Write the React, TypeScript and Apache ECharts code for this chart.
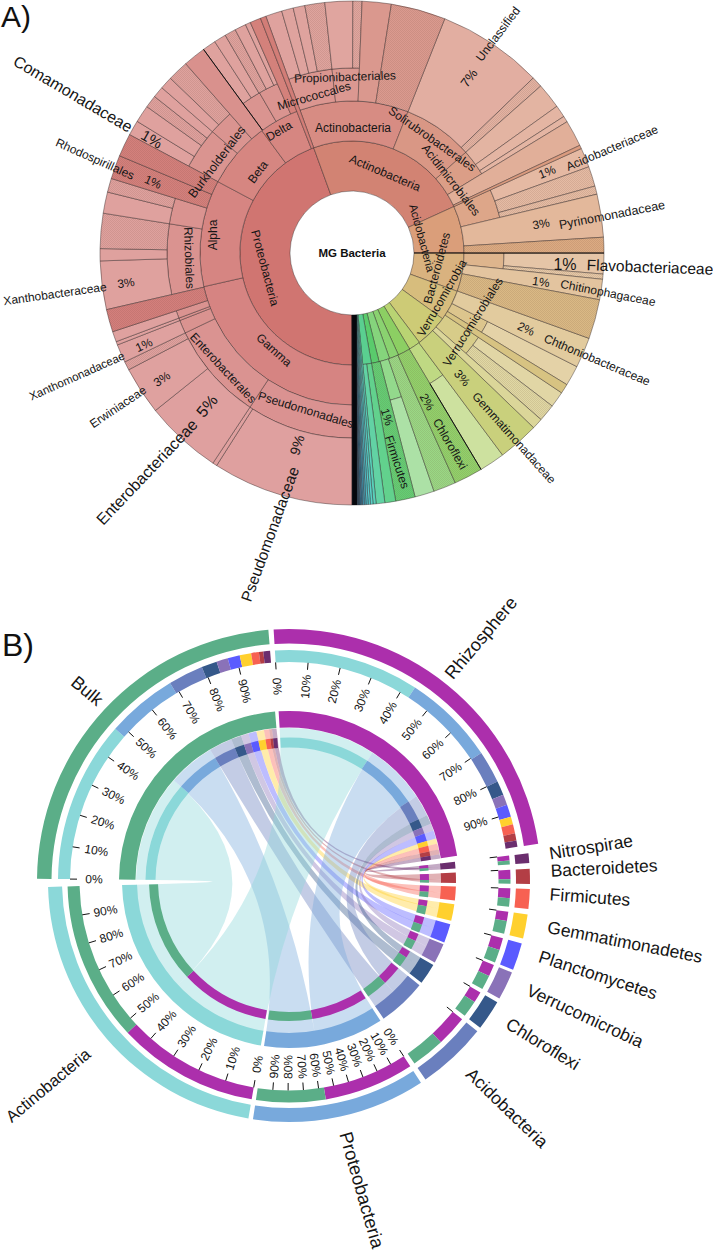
import React, { useEffect, useRef } from "react";
import * as echarts from "echarts";

// ---------- Panel A: Krona wheel. Every cell is [startAngle, endAngle, unassigned?]; angles run clockwise from 6 o'clock.
const phylumCells = [[0,160],[160,245.5],[245.5,270],[270,290],[290,306],[306,323],[323,329],[329,335.5],[335.5,340.4],[340.4,346],[346,350],[350,354.5]];
const rarePhylaEdges = [354.5,355.2,355.8,356.3,356.8,357.2,357.6,357.9,358.2,358.4,358.6,358.8,359,359.15,359.3,359.45,359.6,359.75,359.85,360];
const classCells = [[0,77.2],[77.2,118],[118,143.6],[143.6,158.7],[160,201.6],[201.6,228.5],[228.5,238.6],[245.5,256.5],[270,276],[296.8,301.5],[303.7,311.4],[323.3,329.2],[341,345.5]];
const orderCells = [[0,33.5],[33.5,64.4],[64.4,68.6],[68.6,69.4],[69.4,71.8],[77,99.1],[99.1,107.2],[118,131],[131,138.7],[143.9,150],[150,156.2],[160,173.8],[173.8,182.3]];
const familyCells = [[0,32.5],[32.5,33.5],[33.5,51.3],[51.3,62.4],[62.4,64.4,1],[64.4,68.6],[68.6,69.4],[69.4,71.8],[77,88.2],[88.2,91],[91,99.1,1],[99.1,104],[104,107.2,1],[118,121.5],[121.5,125.5],[125.5,128.4,1],[128.4,131],[131,133.9],[133.9,138.7,1],[143.9,147],[147,149.8],[149.8,152.4,1],[152.4,155],[155,156.2],[160,163.8],[163.8,166.5],[166.5,169.2],[169.2,173.8,1],[173.8,180.2],[180.2,182.3,1]];
// cells that start at the order ring and run to the rim
const orderToRimCells = [[201.6,226],[226,228.5,1],[228.5,234.4],[234.4,237.2],[237.2,238.6],[245.5,250],[250,254.6,1],[254.6,256.5,1],[270,274.8],[274.8,276,1],[296.8,301.5],[303.7,307.4],[307.4,311.4,1],[323.3,329.2],[341,345.5]];
const orderToRimMidCells = [[138.7,143.9],[182.3,189],[189,201.6,1]];
const orderToRimDarkCells = [[71.8,77,1],[107.2,112.7,1],[112.7,118,1],[156.2,158.7]];
// cells that start at the class ring and run to the rim
const classToRimCells = [[238.6,244.7],[256.5,266.4],[276,280.7],[289.8,296.8],[311.4,313.9]];
const classToRimDarkCells = [[158.7,160],[244.7,245.5],[266.4,270,1],[280.7,289.8,1],[301.5,303.7],[313.9,323.3],[329.2,335.8,1],[345.5,350,1],[350,352.5],[352.5,354.5]];
const classToRimMidCells = [[335.8,341,1]];
const heavyEdges = [143.9,270,329.2];

const hueStops: number[][] = [[0,208,115,114],[160,208,118,112],[200,210,130,115],[245,216,150,120],[262,218,160,122],[280,217,178,127],[300,215,190,125],[315,205,203,118],[326,185,212,115],[329.5,140,205,95],[333,140,208,100],[343,135,212,125],[348,90,203,108],[353,90,208,150],[356,90,208,208],[358,60,130,170],[360,20,30,60]];

const kronaLabels: [string, number, number, number, number][] = [
  ["Comamonadaceae",73,94,-30.5,16],["1%",152,139,-30,15],["Rhodospirillales",95,159,-24,12],["1%",153,182,-24,12],
  ["Burkholderiales",217,162,53,12.5],["Beta",258,172,53,12],["Delta",279,131,30,12],["Micrococcales",314,96,16,12],
  ["Propionibacteriales",345,77,2,12],["Actinobacteria",353,128,0,12],["Actinobacteria",385,173,-23,12],["Proteobacteria",265,268,-75,12],
  ["Alpha",213,235,90,12],["Rhizobiales",189,258,-88,12],["Gamma",274,350,-42,12],["Pseudomonadales",306,410,-17,12],
  ["Enterobacterales",223,368,-47,12],["Xanthobacteraceae",55,294,8,12],["3%",126,283,8,12],["Xanthomonadaceae",77,376,24,11.5],
  ["1%",144,345,24,12],["Erwiniaceae",118,407,34,12],["3%",162,379,34,12],["Enterobacteriaceae",147,472,46.5,16],["5%",207,406,50,16],
  ["Pseudomonadaceae",270,534,70,15.5],["9%",297,445,72,14],["Unclassified",498,34,53,12],["7%",469,78,53,13],
  ["Solirubrobacterales",432,139,-35,12],["Acidimicrobiales",451,180,-52,12],["Acidobacteria",422,238,-75,11.5],
  ["Acidobacteriaceae",612,148,23,12],["1%",547,172,22,12],["Pyrinomonadaceae",612,215,11,12.5],["3%",541,224,10,12],
  ["1%",565,264,0,16],["Flavobacteriaceae",650,267,-2,15.5],["1%",541,282,-8,12],["Chitinophagaceae",608,293,-11,12],
  ["2%",526,329,-25,12],["Chthoniobacteraceae",597,360,-23,12],["3%",462,378,-50,12],["Gemmatimonadaceae",514,438,-48,12],
  ["Chloroflexi",450,444,-60,12],["2%",427,402,-60,12],["1%",387,417,-72,12],["Firmicutes",397,462,-72,12],
  ["Verrucomicrobia",442,298,60,12],["Verrucomicrobiales",473,322,58,12],["Bacteroidetes",437,268,75,12],
];

// ---------- Panel B: chord diagram
const phyla = ["Actinobacteria","Proteobacteria","Acidobacteria","Chloroflexi","Verrucomicrobia","Planctomycetes","Gemmatimonadetes","Firmicutes","Bacteroidetes","Nitrospirae"];
const phylumColors = ["#8BD8D9","#78A9DC","#6A7FBE","#35588A","#8A72B8","#5B5BFF","#FFD02E","#F76152","#B33E45","#6B2E6E"];
const bulkColor = "#5BAE88";
const rhizoColor = "#AC2FAC";
const phylumStart = [9.7,326.8,308.6,300.2,292.3,285,278,271.9,267.1,263.4];
const phylumEnd = [88.6,368.6,325.5,307.5,299.2,291.6,283.8,276.7,270.7,265.7];
const rhizoPercentInPhylum = [47,56.5,48,40,45,48,42,53,68,55];
const bulkSpan = [90.5,175.3];
const rhizoSpan = [176.5,261.5];
const bulkComposition = [48,21,10.4,4.6,3.4,3.6,3.4,2.3,1.3,2];
const rhizoComposition = [43,27.4,9.6,4.2,3.1,3.7,2.3,2.7,2.1,1.9];
const percentTicks = [0,10,20,30,40,50,60,70,80,90];
const labelledPhyla = ["Actinobacteria","Proteobacteria"];

const chordLabels: [string, number, number, number, number][] = [
  ["Rhizosphere",481,638,50,18],["Bulk",87,691,-40,18],["Nitrospirae",591,847,9,17.5],["Bacteroidetes",604,868,3,17.5],
  ["Firmicutes",590,897,-4,17.5],["Gemmatimonadetes",625,942,-11,17.5],["Planctomycetes",598,975,-18,17.5],["Verrucomicrobia",585,1016,-25,17.5],
  ["Chloroflexi",543,1044,-31.5,17.5],["Acidobacteria",507,1108,-44,17.5],["Proteobacteria",362,1190,-74,18.5],["Actinobacteria",48,1085,40,16.5],
];

const FONT = '"Liberation Sans", Arial, sans-serif';
const RINGS = [62, 112, 152, 185, 252];
const TOP = { a: [237.5, 252], b: [219, 231], c: [153.5, 170], e: [133.5, 143.5], tick: [212, 219], label: 195 };
const LOW = { a: [227, 241], b: [209.5, 221.5], c: [152, 167], e: [131, 140], tick: [202, 209.5], label: 186 };
const LINK_R = 153;

function baseColor(a: number) {
  for (let i = 1; i < hueStops.length; i++) {
    if (a <= hueStops[i][0]) {
      const p = hueStops[i - 1], q = hueStops[i];
      const t = (a - p[0]) / (q[0] - p[0]);
      return [1, 2, 3].map((k) => p[k] + (q[k] - p[k]) * t);
    }
  }
  return hueStops[hueStops.length - 1].slice(1);
}
function toneColor(a: number, tone: number) {
  const c = baseColor(a).map((v) => Math.round(v + (255 - v) * tone));
  return `rgb(${c[0]},${c[1]},${c[2]})`;
}
const patternCache = new Map<string, any>();
function hatch(color: string) {
  if (patternCache.has(color)) return patternCache.get(color);
  const cv = document.createElement("canvas");
  cv.width = 4; cv.height = 4;
  const g = cv.getContext("2d")!;
  g.fillStyle = color; g.fillRect(0, 0, 4, 4);
  g.fillStyle = "rgba(110,70,55,0.13)";
  [[0,0],[2,0],[1,1],[3,1],[0,2],[2,2],[1,3],[3,3]].forEach(([x, y]) => g.fillRect(x, y, 1, 1));
  const p = { image: cv, repeat: "repeat" };
  patternCache.set(color, p);
  return p;
}

function sectorShape(api: any, r0: number, r1: number, a0: number, a1: number) {
  const c = api.coord([0, a0]);
  const e = api.coord([100, a0]);
  const s = Math.atan2(e[1] - c[1], e[0] - c[0]);
  return { cx: c[0], cy: c[1], r0, r: r1, startAngle: s, endAngle: s + ((a1 - a0) * Math.PI) / 180, clockwise: true };
}

function kronaRows() {
  const rows: number[][] = [];
  const add = (list: number[][], i0: number, i1: number, tone: number) =>
    list.forEach((c) => rows.push([c[0], c[1], RINGS[i0], RINGS[i1], tone, c[2] ? 1 : 0]));
  add(phylumCells, 0, 1, 0);
  add(classCells, 1, 2, 0.12);
  add(orderCells, 2, 3, 0.22);
  add(familyCells, 3, 4, 0.32);
  add(orderToRimCells, 2, 4, 0.32);
  add(orderToRimMidCells, 2, 4, 0.2);
  add(orderToRimDarkCells, 2, 4, 0.08);
  add(classToRimCells, 1, 4, 0.25);
  add(classToRimMidCells, 1, 4, 0.14);
  add(classToRimDarkCells, 1, 4, 0.05);
  for (let i = 0; i + 1 < rarePhylaEdges.length; i++) rows.push([rarePhylaEdges[i], rarePhylaEdges[i + 1], RINGS[0], RINGS[4], 0, 0]);
  return rows;
}

function chordData() {
  const arcs: any[][] = [];
  const links: any[][] = [];
  const ticks: number[][] = [];
  const pushSample = (span: number[], comp: number[], color: string, isRhizo: boolean) => {
    const w = span[1] - span[0];
    arcs.push([span[0], span[1], TOP.a[0], TOP.a[1], color]);
    arcs.push([span[0], span[1], TOP.c[0], TOP.c[1], color]);
    let acc = 0;
    comp.forEach((pct, i) => {
      const a0 = span[0] + (acc / 100) * w;
      const a1 = span[0] + ((acc + pct) / 100) * w;
      arcs.push([a0, a1, TOP.b[0], TOP.b[1], phylumColors[i]]);
      arcs.push([a0, a1, TOP.e[0], TOP.e[1], phylumColors[i]]);
      const pw = phylumEnd[i] - phylumStart[i];
      const split = phylumStart[i] + (rhizoPercentInPhylum[i] / 100) * pw;
      const b0 = isRhizo ? phylumStart[i] : split;
      const b1 = isRhizo ? split : phylumEnd[i];
      links.push([a0, a1, b0, b1, phylumColors[i]]);
      acc += pct;
    });
    percentTicks.forEach((p) => ticks.push([span[0] + (p / 100) * w, TOP.tick[0], TOP.tick[1], TOP.label, p]));
  };
  pushSample(bulkSpan, bulkComposition, bulkColor, false);
  pushSample(rhizoSpan, rhizoComposition, rhizoColor, true);
  phyla.forEach((name, i) => {
    const s = phylumStart[i], e = phylumEnd[i];
    const split = s + (rhizoPercentInPhylum[i] / 100) * (e - s);
    arcs.push([s, e, LOW.a[0], LOW.a[1], phylumColors[i]]);
    arcs.push([s, e, LOW.c[0], LOW.c[1], phylumColors[i]]);
    [LOW.b, LOW.e].forEach((r) => {
      arcs.push([s, split, r[0], r[1], rhizoColor]);
      arcs.push([split, e, r[0], r[1], bulkColor]);
    });
    if (labelledPhyla.includes(name)) {
      percentTicks.forEach((p) => ticks.push([s + (p / 100) * (e - s), LOW.tick[0], LOW.tick[1], LOW.label, p]));
    } else {
      ticks.push([s, LOW.tick[0], LOW.tick[1], LOW.label, -1]);
    }
  });
  return { arcs, links, ticks };
}

function textEl(t: [string, number, number, number, number]) {
  return {
    type: "text", x: t[1], y: t[2], rotation: (t[3] * Math.PI) / 180, z: 100, silent: true,
    style: { text: t[0], font: `${t[4]}px ${FONT}`, fill: "#151515", align: "center", verticalAlign: "middle" },
  };
}

function buildOption() {
  const { arcs, links, ticks } = chordData();
  const hiddenAngle = (i: number) => ({ polarIndex: i, type: "value", min: 0, max: 360, startAngle: 270, clockwise: true, show: false });
  const hiddenRadius = (i: number) => ({ polarIndex: i, type: "value", min: 0, max: 252, show: false });
  return {
    animation: false,
    backgroundColor: "#ffffff",
    polar: [
      { center: [352, 253], radius: [0, 252] },
      { center: [289, 881], radius: [0, 252] },
    ],
    angleAxis: [hiddenAngle(0), hiddenAngle(1)],
    radiusAxis: [hiddenRadius(0), hiddenRadius(1)],
    series: [
      {
        type: "custom", coordinateSystem: "polar", polarIndex: 0, silent: true, z: 2,
        data: kronaRows(),
        renderItem: (_p: any, api: any) => {
          const a0 = api.value(0), a1 = api.value(1);
          const col = toneColor((a0 + a1) / 2, api.value(4));
          return {
            type: "sector",
            shape: sectorShape(api, api.value(2), api.value(3), a0, a1),
            style: { fill: api.value(5) ? hatch(col) : col, stroke: "rgba(35,25,25,0.8)", lineWidth: 0.5 },
          };
        },
      },
      {
        type: "custom", coordinateSystem: "polar", polarIndex: 0, silent: true, z: 3,
        data: heavyEdges.map((a) => [a]),
        renderItem: (_p: any, api: any) => {
          const a = api.value(0);
          const p = api.coord([RINGS[a === 270 ? 0 : 2], a]), q = api.coord([RINGS[4], a]);
          return { type: "line", shape: { x1: p[0], y1: p[1], x2: q[0], y2: q[1] }, style: { stroke: "#111", lineWidth: 1 } };
        },
      },
      {
        type: "custom", coordinateSystem: "polar", polarIndex: 0, silent: true, z: 3,
        data: [[357.7, 359.4]],
        renderItem: (_p: any, api: any) => {
          const p = api.coord([RINGS[0], api.value(0)]), q = api.coord([RINGS[4], api.value(1)]);
          return { type: "line", shape: { x1: p[0], y1: p[1], x2: q[0], y2: q[1] }, style: { stroke: "#05070c", lineWidth: 4.6 } };
        },
      },
      {
        type: "custom", coordinateSystem: "polar", polarIndex: 1, silent: true, z: 2,
        data: links.map((l) => ({ value: l.slice(0, 4), color: l[4] })),
        renderItem: (p: any, api: any) => {
          const a0 = api.value(0), a1 = api.value(1), b0 = api.value(2), b1 = api.value(3);
          const c = api.coord([0, 0]);
          const P = (a: number) => api.coord([LINK_R, a]);
          const A0 = P(a0), A1 = P(a1), B0 = P(b0), B1 = P(b1);
          const d = `M${A0[0]} ${A0[1]}A${LINK_R} ${LINK_R} 0 0 1 ${A1[0]} ${A1[1]}Q${c[0]} ${c[1]} ${B0[0]} ${B0[1]}A${LINK_R} ${LINK_R} 0 0 1 ${B1[0]} ${B1[1]}Q${c[0]} ${c[1]} ${A0[0]} ${A0[1]}Z`;
          return { type: "path", shape: { pathData: d }, style: { fill: links[p.dataIndex][4], opacity: 0.4 } };
        },
      },
      {
        type: "custom", coordinateSystem: "polar", polarIndex: 1, silent: true, z: 3,
        data: arcs.map((l) => l.slice(0, 4)),
        renderItem: (p: any, api: any) => ({
          type: "sector",
          shape: sectorShape(api, api.value(2), api.value(3), api.value(0), api.value(1)),
          style: { fill: arcs[p.dataIndex][4] },
        }),
      },
      {
        type: "custom", coordinateSystem: "polar", polarIndex: 1, silent: true, z: 4,
        data: ticks,
        renderItem: (_p: any, api: any) => {
          const a = api.value(0), pct = api.value(4);
          const p = api.coord([api.value(1), a]), q = api.coord([api.value(2), a]), l = api.coord([api.value(3), a]);
          const c = api.coord([0, 0]);
          const children: any[] = [
            { type: "line", shape: { x1: p[0], y1: p[1], x2: q[0], y2: q[1] }, style: { stroke: "#111", lineWidth: 1 } },
          ];
          if (pct >= 0) {
            const rot = Math.atan(-(l[1] - c[1]) / (l[0] - c[0]));
            children.push({
              type: "text", x: l[0], y: l[1], rotation: rot,
              style: { text: `${pct}%`, font: `12px ${FONT}`, fill: "#151515", align: "center", verticalAlign: "middle" },
            });
          }
          return { type: "group", children };
        },
      },
    ],
    graphic: {
      elements: [
        ...kronaLabels.map(textEl),
        ...chordLabels.map(textEl),
        { type: "text", x: 352, y: 253, z: 100, silent: true, style: { text: "MG Bacteria", font: `bold 11.5px ${FONT}`, fill: "#111", align: "center", verticalAlign: "middle" } },
        { type: "text", x: 1, y: 16, z: 100, silent: true, style: { text: "A)", font: `30px ${FONT}`, fill: "#111", align: "left", verticalAlign: "middle" } },
        { type: "text", x: 2, y: 645, z: 100, silent: true, style: { text: "B)", font: `32px ${FONT}`, fill: "#111", align: "left", verticalAlign: "middle" } },
      ],
    },
  };
}

export default function App() {
  const ref = useRef<HTMLDivElement>(null);
  useEffect(() => {
    const chart = echarts.init(ref.current!, undefined, { renderer: "svg" });
    chart.setOption(buildOption() as any);
    return () => chart.dispose();
  }, []);
  return <div ref={ref} style={{ position: "absolute", left: 0, top: 0, width: 713, height: 1250 }} />;
}
